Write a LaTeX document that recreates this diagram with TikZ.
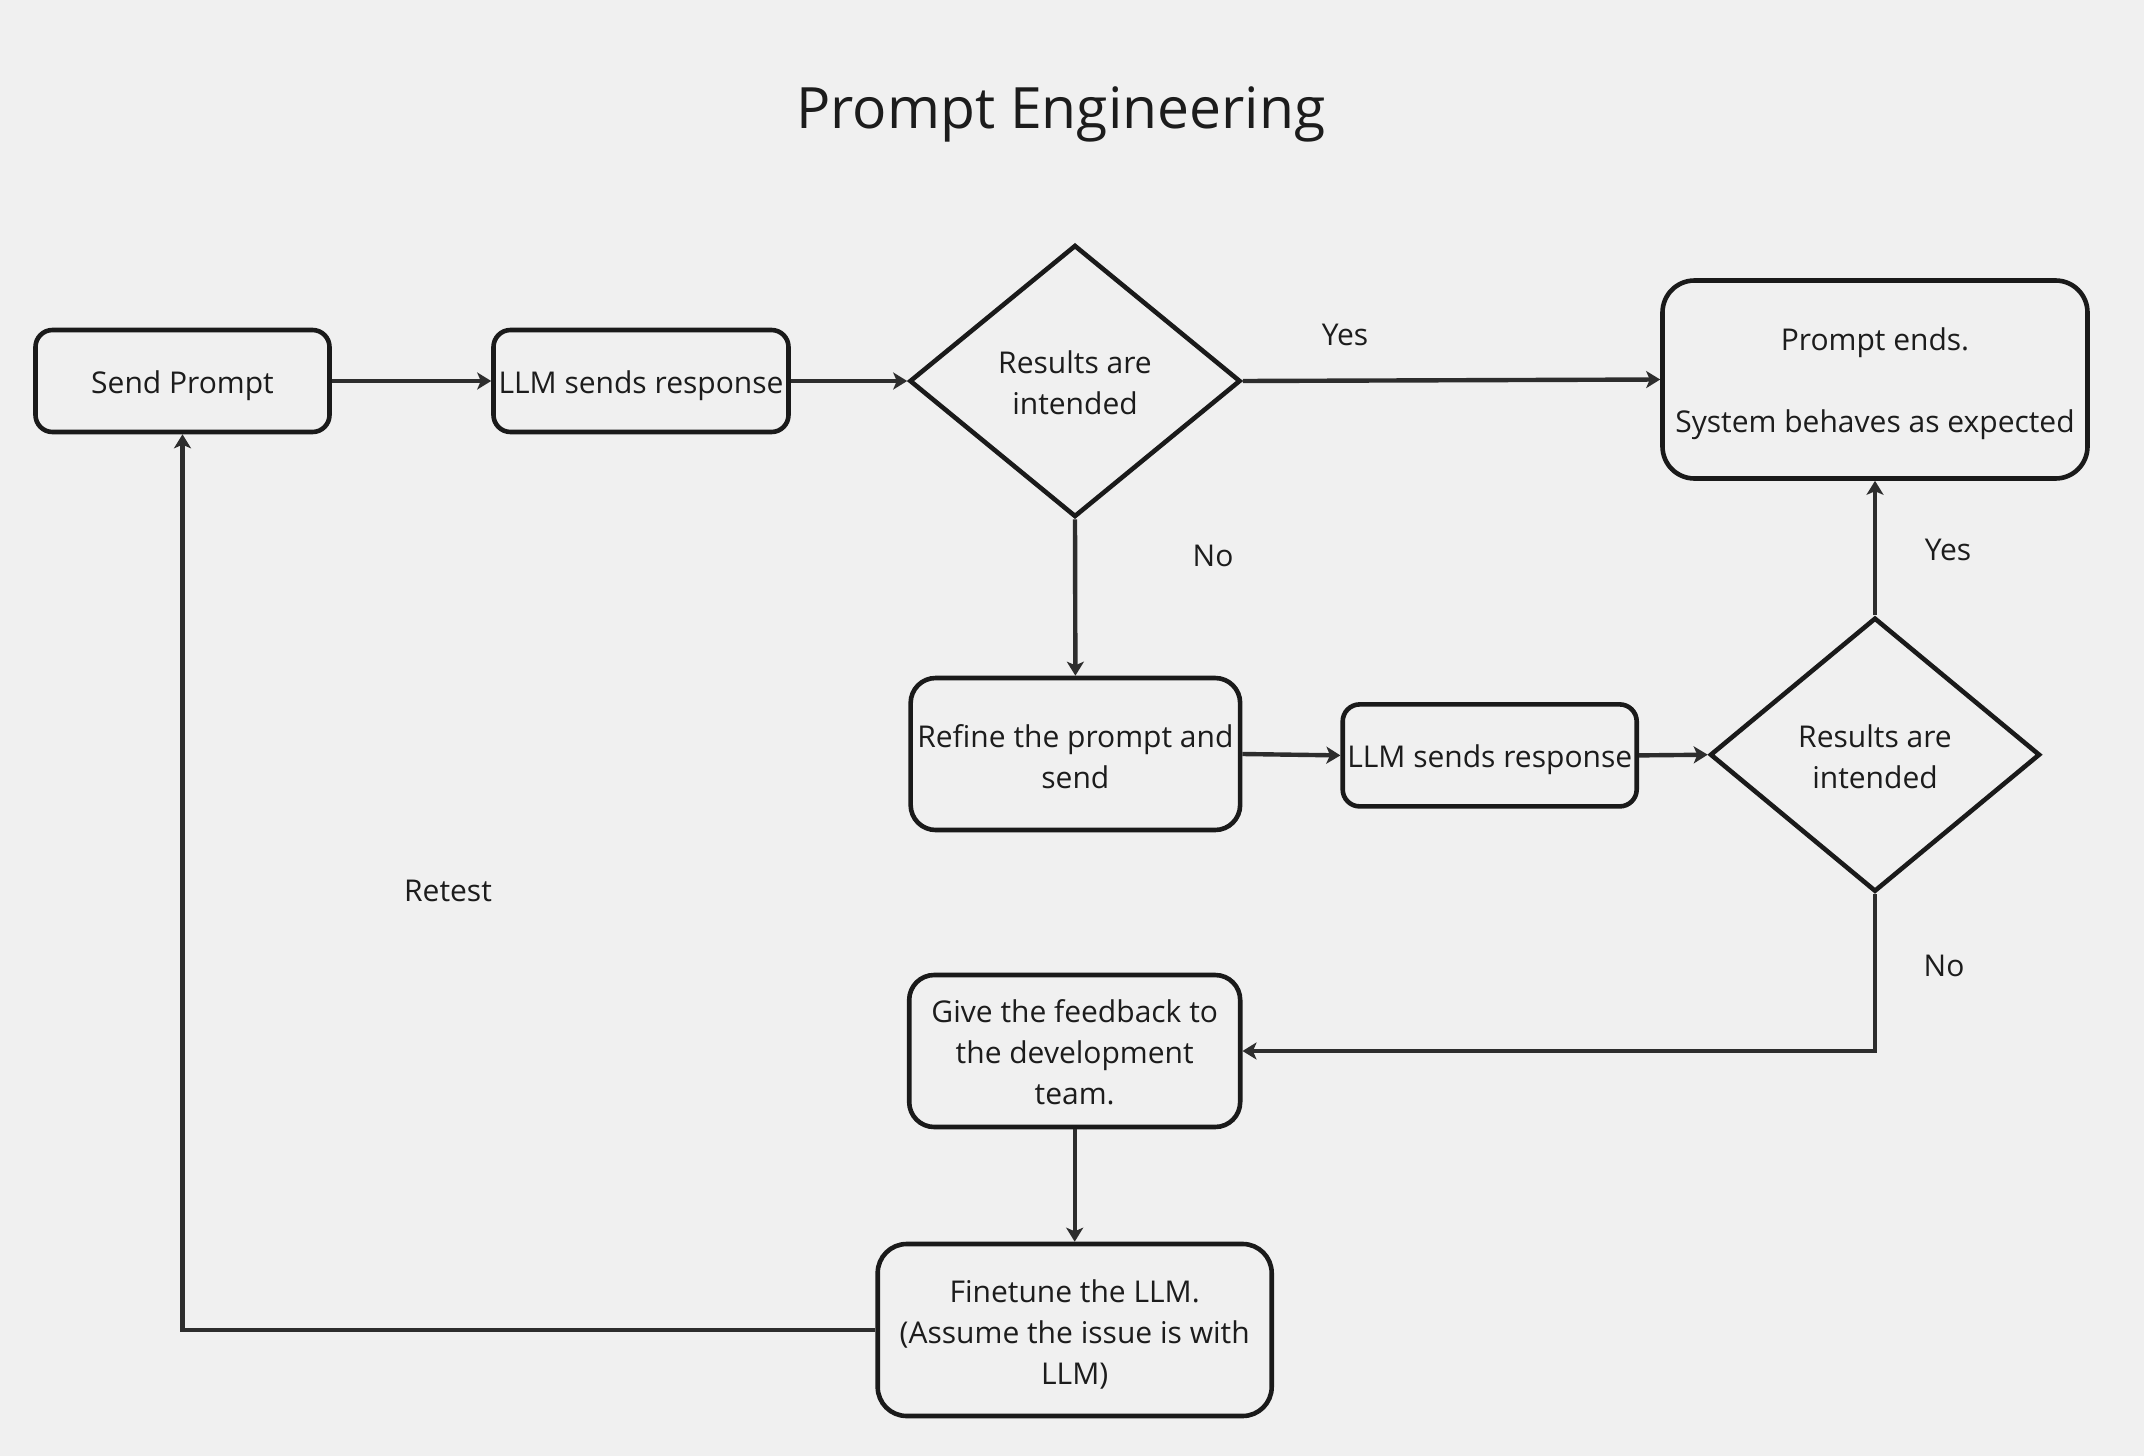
\documentclass[tikz,border=0pt]{standalone}
\usepackage{fontspec}
\setmainfont{Open Sans}
\usetikzlibrary{shapes.geometric,arrows.meta}
\definecolor{bgc}{HTML}{F0F0F0}
\definecolor{boxline}{HTML}{1A1A1A}
\definecolor{conn}{HTML}{2D2D2D}
\definecolor{txt}{HTML}{1C1C1C}
\newcommand\topstr[1]{\rule{0pt}{#1}}
\tikzset{
  base/.style={draw=boxline, line width=2.3pt, text=txt, align=center, inner sep=0pt,
    font=\fontsize{15}{20.5}\selectfont},
  oneline/.style={execute at begin node={\rule{0pt}{16pt}},
    execute at end node={\rule[-4pt]{0pt}{4pt}}},
  rbox/.style={base, rectangle, rounded corners=#1},
  rbox/.default=8.5pt,
  dec/.style={base, diamond},
  conn/.style={draw=conn, line width=2.2pt, -{Stealth[length=7pt,width=8.5pt,inset=1.8pt]}},
  lbl/.style={text=txt, font=\fontsize{15}{20.5}\selectfont, inner sep=0pt}
}
\begin{document}
\begin{tikzpicture}[x=0.5pt,y=-0.5pt]
\fill[bgc] (0,0) rectangle (2144,1456);
\useasboundingbox (0,0) rectangle (2144,1456);

\node[text=txt, font=\fontsize{28.5}{34}\selectfont, inner sep=0pt] (title) at (1061,114) {Prompt Engineering};

\node[rbox, oneline, minimum width=147pt, minimum height=51pt] (send) at (182.5,381) {Send Prompt};
\node[rbox, oneline, minimum width=147.5pt, minimum height=51pt] (llm1) at (641,381) {LLM sends response};
\node[dec, minimum width=165.5pt, minimum height=136pt] (d1) at (1075,381) {\topstr{13pt}Results are\\intended};
\node[rbox=16pt, minimum width=212.5pt, minimum height=99pt] (ends) at (1875,379.5) {\topstr{15.5pt}Prompt ends.\\[20.5pt]System behaves as expected};

\node[rbox=12.5pt, minimum width=164.75pt, minimum height=76pt] (refine) at (1075.4,754) {\topstr{14pt}Refine the prompt and\\send};
\node[rbox, oneline, minimum width=147pt, minimum height=51pt] (llm2) at (1489.7,755.4) {LLM sends response};
\node[dec, minimum width=165pt, minimum height=137pt] (d2) at (1875,754.7) {\topstr{13pt}Results are\\intended};

\node[rbox=12.5pt, minimum width=165.5pt, minimum height=76pt] (feedback) at (1074.7,1051) {\topstr{13pt}Give the feedback to\\the development\\team.};
\node[rbox=14.5pt, minimum width=197pt, minimum height=86pt] (finetune) at (1074.7,1330) {\topstr{15.5pt}Finetune the LLM.\\(Assume the issue is with\\LLM)};

\node[lbl] (yes1) at (1345,335) {Yes};
\node[lbl] (no1) at (1213,556) {No};
\node[lbl] (yes2) at (1948,550) {Yes};
\node[lbl] (no2) at (1944,966) {No};
\node[lbl] (retest) at (448,891) {Retest};

\draw[conn] (send.east) -- (llm1.west);
\draw[conn] (llm1.east) -- (d1.west);
\draw[conn] (d1.east) -- (ends.west);
\draw[conn] (d1.south) -- (refine.north);
\draw[conn] (refine.east) -- (llm2.west);
\draw[conn] (llm2.east) -- (d2.west);
\draw[conn] (d2.north) -- (ends.south);
\draw[conn] (d2.south) |- (feedback.east);
\draw[conn] (feedback.south) -- (finetune.north);
\draw[conn] (finetune.west) -| (send.south);
\end{tikzpicture}
\end{document}
